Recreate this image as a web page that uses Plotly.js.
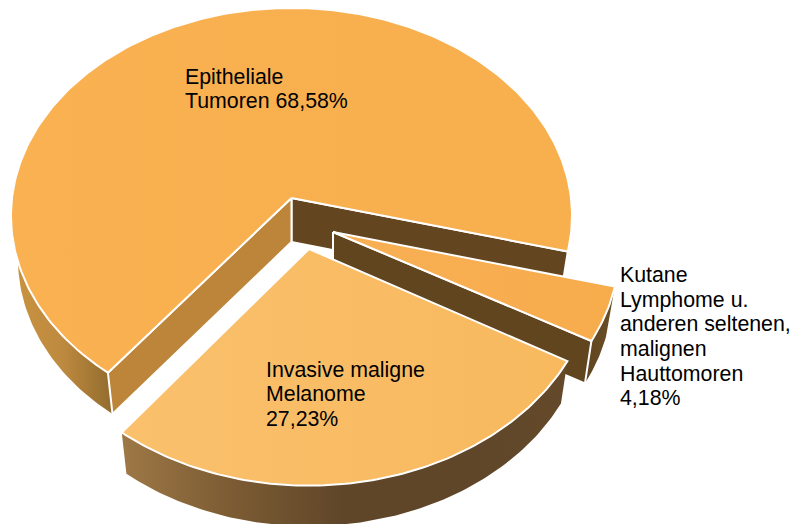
<!DOCTYPE html>
<html>
<head>
<meta charset="utf-8">
<script src="https://cdn.plot.ly/plotly-3.0.1.min.js"></script>
<style>html,body{margin:0;padding:0;background:#fff}#c{width:794px;height:524px}</style>
</head>
<body>
<div id="c"></div>
<script>
// Data
const categories = ["Epitheliale|Tumoren", "Invasive maligne|Melanome", "Kutane|Lymphome u.|anderen seltenen,|malignen|Hauttomoren"];
const shares = [68.58, 27.23, 4.18];
const separators = [" ", "|", "|"];

// Projection of the tilted disc
const START_DEG = -14.7, RX = 279.5, RY = 206.2, PERSP = 0.085;
const DEPTH = 44, BASE_X = 0.975, BASE_Y = 0.985;
const total = shares.reduce((a, b) => a + b, 0);
const pieces = [
  {ax: 291.5, ay: 198, kx: 1,    ky: 1,    top: "#F9B151", topEnd: "#F8AF4E"},
  {ax: 309,   ay: 249, kx: 1.02, ky: 1.05, top: "#FAC06C", topEnd: "#F8B95E"},
  {ax: 333,   ay: 232, kx: 1.02, ky: 1.02, top: "#F8B055", topEnd: "#F7AC4C"}
];
let acc = START_DEG;
pieces.forEach((p, i) => { p.a0 = acc; acc += shares[i] / total * 360; p.a1 = acc; });

function rimPoint(p, deg, base) {
  const t = deg * Math.PI / 180, u = Math.cos(t), v = Math.sin(t), w = 1 + PERSP * v;
  return [p.ax + p.kx * (base ? BASE_X : 1) * RX * u / w,
          p.ay + (base ? DEPTH : 0) - p.ky * (base ? BASE_Y : 1) * RY * v / w];
}
function arc(p, a, b, base) {
  const n = Math.max(2, Math.ceil(Math.abs(b - a)));
  const out = [];
  for (let i = 0; i <= n; i++) out.push(rimPoint(p, a + (b - a) * i / n, base));
  return out;
}
function poly(points, opt) {
  const tr = {
    type: "scatter", mode: "lines", fill: "toself", hoverinfo: "skip", showlegend: false,
    x: points.map(q => q[0]).concat([points[0][0]]),
    y: points.map(q => q[1]).concat([points[0][1]]),
    line: {color: opt.line || "#FFFFFF", width: opt.width === undefined ? 2 : opt.width}
  };
  if (opt.colors) tr.fillgradient = {type: "horizontal",
    colorscale: opt.colors.map((c, i) => [i / (opt.colors.length - 1), c])};
  else tr.fillcolor = opt.color;
  return tr;
}
function side(p, a, b, colors) {
  return poly(arc(p, a, b, false).concat(arc(p, b, a, true)), {colors, width: 0, line: "rgba(0,0,0,0)"});
}
function wall(p, deg, color) {
  const apexB = [p.ax, p.ay + DEPTH];
  return poly([[p.ax, p.ay], rimPoint(p, deg, false), rimPoint(p, deg, true), apexB], {color});
}
function face(p) {
  return poly([[p.ax, p.ay]].concat(arc(p, p.a0, p.a1, false)), {colors: [p.top, p.topEnd]});
}

const [E, M, K] = pieces;
const traces = [
  side(E, 150, E.a1, ["#C9933F", "#BE8A3F", "#926C2E"]),
  wall(E, E.a0, "#634520"),
  wall(E, E.a1, "#BC853A"),
  face(E),
  side(K, K.a0, K.a1, ["#5F4520", "#6B4E26"]),
  wall(K, K.a0, "#60451F"),
  face(K),
  side(M, M.a0, M.a1, ["#9E7846", "#7B5B33", "#5F4629", "#5F4629", "#64492A"]),
  face(M)
];

const labelX = [184, 265, 619];
const firstBaseline = [83, 376, 281.7];
const LINE_STEP = 24.6, BASE_TO_MIDDLE = 6.5;
const font = {family: "Liberation Sans, Arial, sans-serif", size: 21.33, color: "#000000"};
const annotations = [];
categories.forEach((c, i) => {
  const full = c + separators[i] + shares[i].toFixed(2).replace(".", ",") + "%";
  full.split("|").forEach((line, j) => annotations.push({
    x: labelX[i], y: firstBaseline[i] + j * LINE_STEP - BASE_TO_MIDDLE, xref: "x", yref: "y",
    xanchor: "left", yanchor: "middle", align: "left", showarrow: false, borderpad: 0,
    text: line, font
  }));
});

Plotly.newPlot("c", traces, {
  width: 794, height: 524, margin: {l: 0, r: 0, t: 0, b: 0},
  paper_bgcolor: "#FFFFFF", plot_bgcolor: "#FFFFFF", showlegend: false,
  xaxis: {range: [0, 794], visible: false, fixedrange: true},
  yaxis: {range: [524, 0], visible: false, fixedrange: true},
  annotations
}, {displayModeBar: false, staticPlot: true});
</script>
</body>
</html>
